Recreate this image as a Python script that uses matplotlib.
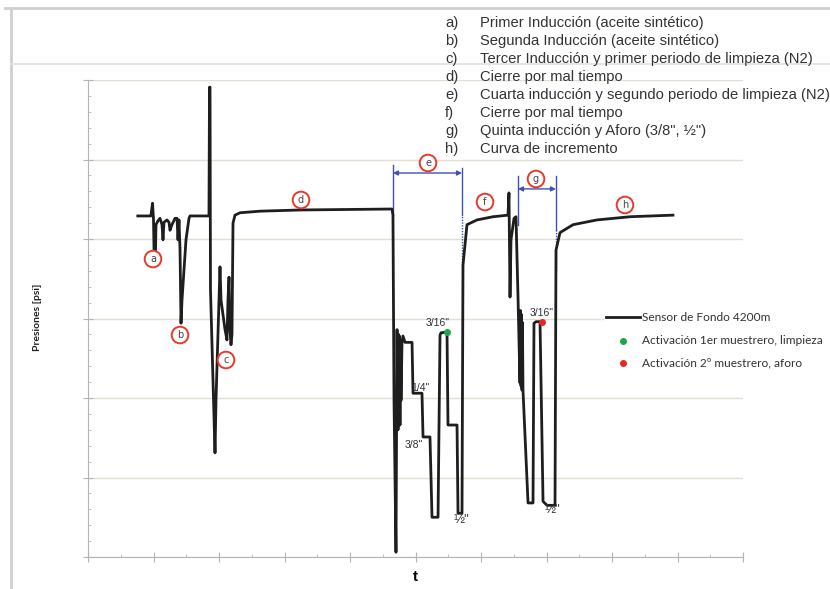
import matplotlib
matplotlib.use("Agg")
from matplotlib import pyplot as plt
from matplotlib.lines import Line2D
import numpy as np

# bottom-hole pressure trace (t in grid units, p in grid units; no scale shown)
t = [0.76, 0.96, 0.985, 1.0, 1.008, 1.031, 1.038, 1.069, 1.099, 1.130, 1.145, 1.160,
     1.206, 1.237, 1.252, 1.282, 1.328, 1.359, 1.374, 1.389, 1.405, 1.420, 1.435,
     1.496, 1.542, 1.557, 1.847, 1.855, 1.863, 1.870, 1.939, 1.954, 2.0, 2.015,
     2.031, 2.092, 2.122, 2.137, 2.153, 2.168, 2.183, 2.198, 2.214, 2.244, 2.321,
     2.626, 3.237, 4.611, 4.641, 4.656, 4.672, 4.702,
     4.718, 4.733, 4.741, 4.748, 4.756, 4.763, 4.771, 4.779, 4.794, 4.809, 4.840,
     4.947, 4.962, 5.099, 5.115, 5.221, 5.252, 5.344, 5.374, 5.389, 5.481, 5.496,
     5.634, 5.649, 5.710, 5.725, 5.786, 5.939, 6.183, 6.412,
     6.427, 6.443, 6.458, 6.504, 6.534, 6.565, 6.595, 6.603, 6.611, 6.618, 6.626,
     6.633, 6.641, 6.718, 6.794, 6.809, 6.840, 6.901, 6.947, 7.008, 7.130, 7.145,
     7.206, 7.405, 7.771, 8.275, 8.931]
p = [4.29, 4.29, 4.45, 4.25, 3.86, 3.86, 4.18, 4.23, 4.26, 4.18, 3.99, 4.21,
     4.24, 4.21, 4.11, 4.18, 4.26, 4.26, 3.99, 4.24, 3.86, 2.94, 3.23,
     3.99, 4.26, 4.29, 4.29, 5.91, 5.91, 3.36, 1.31, 1.97, 3.23, 3.65,
     3.23, 2.86, 2.73, 3.23, 3.52, 2.86, 2.67, 2.80, 4.20, 4.30, 4.33,
     4.35, 4.365, 4.377, 4.377, 4.30, 1.97, 0.06,
     2.86, 1.60, 2.80, 1.72, 2.78, 1.66, 2.73, 1.97, 2.70, 2.78, 2.70,
     2.70, 2.06, 2.06, 1.51, 1.51, 0.50, 0.50, 2.79, 2.82, 2.83, 1.66,
     1.66, 0.55, 0.55, 3.67, 4.18, 4.24, 4.28, 4.30,
     4.58, 3.27, 3.99, 4.26, 4.28, 3.27, 2.19, 3.10, 2.15, 3.05, 2.10,
     2.95, 2.10, 0.68, 0.68, 2.94, 2.96, 2.96, 0.70, 0.65, 0.65, 3.86,
     4.08, 4.18, 4.24, 4.28, 4.30]

# sampler activations
act1_t, act1_p = [5.481], [2.83]
act2_t, act2_p = [6.931], [2.96]

# event markers
event_letters = ["a", "b", "c", "d", "e", "f", "g", "h"]
event_t = [0.992, 1.405, 2.107, 3.252, 5.191, 6.061, 6.840, 8.198]
event_p = [3.748, 2.792, 2.478, 4.491, 4.956, 4.465, 4.755, 4.428]

event_desc = [
    "Primer Inducción (aceite sintético)",
    "Segunda Inducción (aceite sintético)",
    "Tercer Inducción y primer periodo de limpieza (N2)",
    "Cierre por mal tiempo",
    "Cuarta inducción y segundo periodo de limpieza (N2)",
    "Cierre por mal tiempo",
    "Quinta inducción y Aforo (3/8\", ½\")",
    "Curva de incremento",
]

# choke sizes
choke_labels = ["3/16\"", "1/4\"", "3/8\"", "½\"", "3/16\"", "½\""]
choke_t = [5.344, 5.069, 4.977, 5.695, 6.931, 7.084]
choke_p = [2.943, 2.126, 1.409, 0.465, 3.069, 0.591]

# dimension brackets for periods e and g
span_e = (4.656, 5.710)
span_g = (6.565, 7.145)

blue = "#3f51b5"
gray = "#b4b4b4"

fig = plt.figure(figsize=(8.3, 5.89), dpi=100)
ax = fig.add_axes([88/830, 1-557/589, (743-88)/830, (557-80)/589])

ax.plot(t, p, color="#1e1e1e", lw=2, label="Sensor de Fondo 4200m", zorder=3)
ax.scatter(act1_t, act1_p, color="#19a84a", s=16, zorder=4,
           label="Activación 1er muestrero, limpieza")
ax.scatter(act2_t, act2_p, color="#e8261f", s=16, zorder=4,
           label="Activación 2º muestrero, aforo")

ax.set_xlim(0, 10)
ax.set_ylim(0, 6)
ax.set_xticks(np.arange(0, 11, 1))
ax.set_xticks(np.arange(0, 10.01, 0.5), minor=True)
ax.set_yticks(np.arange(0, 7, 1))
ax.set_yticks(np.arange(0, 6.01, 0.2), minor=True)
ax.tick_params(which="major", direction="inout", length=7, color=gray,
               labelleft=False, labelbottom=False)
ax.tick_params(which="minor", direction="in", length=2.5, color=gray)
ax.yaxis.grid(True, color="#e4dfd3", lw=1)
ax.set_axisbelow(True)
for s in ["top", "right"]:
    ax.spines[s].set_visible(False)
for s in ["left", "bottom"]:
    ax.spines[s].set_color(gray)

ax.set_xlabel("t", fontsize=11, fontweight="bold", family="Liberation Sans",
              labelpad=6)
fig.text(37/830, 1-317/589, "Presiones [psi]", rotation=90, ha="center",
         va="center", fontsize=7.5, fontweight="bold", family="Lato", color="#222")

# circled event letters
for lt, et, ep in zip(event_letters, event_t, event_p):
    ax.text(et, ep, lt, ha="center", va="center", fontsize=7, color="#444",
            zorder=5,
            bbox=dict(boxstyle="circle,pad=0.34", fc="white", ec="#e8392b", lw=1.4))

# choke labels (the ½ glyph is small, so give it more size)
for lb, ct, cp in zip(choke_labels, choke_t, choke_p):
    fs = 9.5 if lb.startswith("½") else 7.5
    ax.text(ct, cp, lb, ha="center", va="center", fontsize=fs, color="#333",
            family="Liberation Sans", zorder=5)

# dimension brackets
ax.plot([span_e[0]]*2, [4.30, 4.93], color=blue, lw=1)
ax.plot([span_e[1]]*2, [4.30, 4.89], color=blue, lw=1)
ax.plot([span_e[1]]*2, [3.67, 4.30], color=blue, lw=1, ls=(0, (1, 1)))
ax.annotate("", xy=(span_e[0], 4.83), xytext=(span_e[1], 4.83),
            arrowprops=dict(arrowstyle="<|-|>", color=blue, lw=1,
                            mutation_scale=7, shrinkA=0, shrinkB=0))
ax.plot([span_g[0]]*2, [4.18, 4.79], color=blue, lw=1)
ax.plot([span_g[1]]*2, [4.11, 4.79], color=blue, lw=1)
ax.plot([span_g[1]]*2, [3.61, 4.11], color=blue, lw=1, ls=(0, (1, 1)))
ax.annotate("", xy=(span_g[0], 4.63), xytext=(span_g[1], 4.63),
            arrowprops=dict(arrowstyle="<|-|>", color=blue, lw=1,
                            mutation_scale=7, shrinkA=0, shrinkB=0))

leg = ax.legend(loc="upper left", bbox_to_anchor=(604/830, 1-310/589),
                bbox_transform=fig.transFigure, frameon=True, fancybox=False,
                edgecolor="none", facecolor="white", framealpha=1,
                prop=dict(family="Lato", size=8.6), handlelength=2.8,
                handletextpad=0.15, labelspacing=0.95, borderpad=0.2,
                borderaxespad=0, scatterpoints=1)
for txt in leg.get_texts():
    txt.set_color("#333")

# event description list
for i, (lt, desc) in enumerate(zip(event_letters, event_desc)):
    y = 1 - (23 + 18*i)/589
    fig.text(445/830, y, lt + ")", ha="left", va="center", fontsize=10.6,
             family="Liberation Sans", color="#333")
    fig.text(480/830, y, desc, ha="left", va="center", fontsize=10.6,
             family="Liberation Sans", color="#333")

# outer frame of the picture
lc = "#cfcfcf"
fig.add_artist(Line2D([5/830, 1], [1-8/589]*2, transform=fig.transFigure, color=lc, lw=2))
fig.add_artist(Line2D([11/830]*2, [0, 1-8/589], transform=fig.transFigure, color=lc, lw=2))
fig.add_artist(Line2D([11/830, 1], [1-64/589]*2, transform=fig.transFigure, color="#e0e0e0", lw=1.2))

fig.savefig("out.png", dpi=100)
